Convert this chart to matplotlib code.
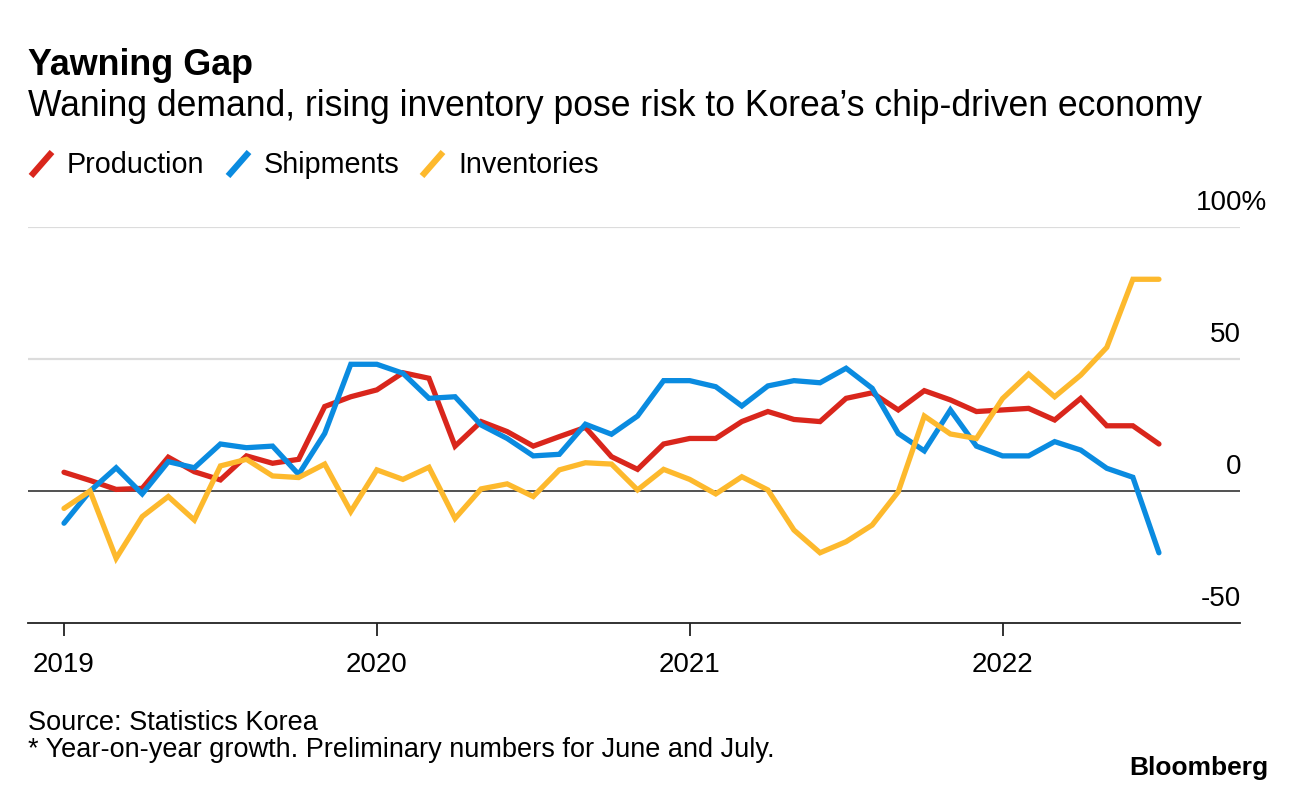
import numpy as np
import matplotlib.pyplot as plt
from matplotlib.lines import Line2D

plt.rcParams['font.family'] = ['Liberation Sans', 'DejaVu Sans']

# monthly year-on-year growth, Jan 2019 - Jul 2022
production = [7.1, 4.0, 0.6, 1.0, 12.8, 7.3, 4.2, 13.3, 10.5, 12.0, 32.0, 35.7, 38.3,
              44.8, 42.7, 17.0, 26.3, 22.5, 17.0, 20.6, 24.1, 13.0, 8.2, 17.8, 19.9,
              19.9, 26.3, 30.1, 27.1, 26.3, 35.1, 37.2, 30.7, 38.0, 34.5, 30.1, 30.7,
              31.3, 26.9, 35.1, 24.7, 24.7, 17.8]
shipments = [-12.2, 0.0, 8.8, -1.1, 11.1, 8.8, 17.8, 16.4, 17.0, 6.3, 21.8, 48.0, 48.0,
             44.6, 35.1, 35.7, 25.0, 19.9, 13.3, 13.9, 25.3, 21.5, 28.4, 41.8, 41.8,
             39.5, 32.2, 39.8, 41.8, 41.0, 46.5, 38.9, 21.8, 15.2, 30.7, 17.0, 13.3,
             13.3, 18.7, 15.5, 8.6, 5.2, -23.4]
inventories = [-6.6, 0.0, -25.5, -9.7, -2.1, -11.0, 9.5, 12.0, 5.7, 5.1, 10.2, -7.8, 8.0,
               4.4, 9.0, -10.4, 0.8, 2.7, -2.1, 8.0, 10.7, 10.2, 0.4, 8.2, 4.4,
               -1.1, 5.4, 0.4, -14.8, -23.4, -19.2, -12.9, -0.3, 28.4, 21.6, 19.9, 35.0,
               44.3, 35.7, 43.9, 54.4, 80.2, 80.2]
series_names = ["Production", "Shipments", "Inventories"]
colors = ["#d9261c", "#0a8be0", "#fdb92d"]
year_labels = ["2019", "2020", "2021", "2022"]
y_ticks = [100, 50, 0, -50]
y_tick_labels = ["100%", "50", "0", "-50"]

months = np.arange(len(production))
W, H = 1296, 790

fig = plt.figure(figsize=(W / 100, H / 100), dpi=100)
ax = fig.add_axes([28 / W, 1 - 623 / H, (1240 - 28) / W, (623 - 227) / H])


def ftext(x, y, s, **kw):
    # place text using pixel coords (from top-left)
    fig.text(x / W, 1 - y / H, s, **kw)


for vals, c in zip([production, shipments, inventories], colors):
    ax.plot(months, vals, color=c, lw=3.8, solid_joinstyle='miter', solid_capstyle='round',
            clip_on=False, zorder=3)

for t in [100, 50]:
    ax.axhline(t, color="#dcdcdc", lw=1.6, zorder=1)
ax.axhline(0, color="#222222", lw=1.1, zorder=2)

ax.set_xlim(-36 / 26.07, (1240 - 64) / 26.07)
ax.set_ylim(-50, 100)
for s in ["top", "right", "left"]:
    ax.spines[s].set_visible(False)
ax.spines["bottom"].set_color("#222222")
ax.spines["bottom"].set_linewidth(1.3)
ax.set_yticks([])
ax.set_xticks([0, 12, 24, 36])
ax.set_xticklabels([])
ax.tick_params(axis='x', length=9, width=1.3, color="#222222", direction='out')

# year labels
for i, lab in enumerate(year_labels):
    xpix = 64 + 26.07 * 12 * i
    ftext(xpix, 672, lab, fontsize=20, ha='center', va='baseline')

# y labels on the right, above gridlines
for t, lab in zip(y_ticks, y_tick_labels):
    ypix = 491 - 2.64 * t - 17
    xr = 1267 if lab.endswith("%") else 1241
    ftext(xr, ypix, lab, fontsize=20, ha='right', va='baseline')

# title block
ftext(28, 75, "Yawning Gap", fontsize=25.8, fontweight='bold', va='baseline')
ftext(28, 116, "Waning demand, rising inventory pose risk to Korea\u2019s chip-driven economy",
      fontsize=25.6, va='baseline')

# legend with slashes
leg_x = [31, 228, 422]
for lx, name, c in zip(leg_x, series_names, colors):
    fig.add_artist(Line2D([lx / W, (lx + 21) / W], [1 - 176 / H, 1 - 152 / H],
                          color=c, lw=4.5, solid_capstyle='butt'))
    ftext(lx + 36, 173, name, fontsize=20.7, va='baseline')

# footer
ftext(28, 730, "Source: Statistics Korea", fontsize=19.5, va='baseline')
ftext(28, 757, "* Year-on-year growth. Preliminary numbers for June and July.",
      fontsize=19.5, va='baseline')
ftext(1268, 775, "Bloomberg", fontsize=19, fontweight='bold', ha='right', va='baseline')

fig.savefig("out.png", dpi=100)
